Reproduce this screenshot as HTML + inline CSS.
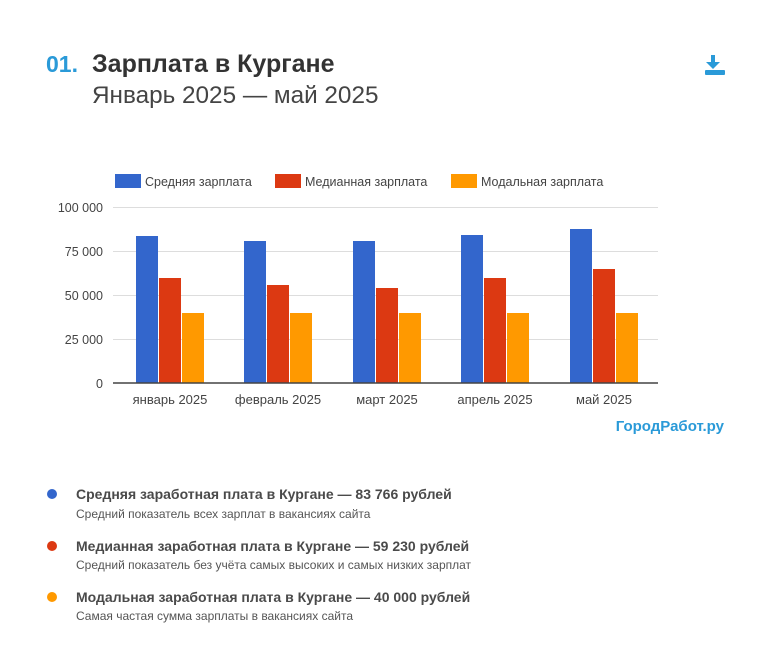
<!DOCTYPE html>
<html><head><meta charset="utf-8"><style>
body{margin:0;background:#fff;width:760px;height:643px;overflow:hidden;font-family:"Liberation Sans",sans-serif}
</style></head><body>
<svg width="760" height="643" viewBox="0 0 760 643" xmlns="http://www.w3.org/2000/svg" font-family="Liberation Sans, sans-serif">
<text x="46" y="72" font-size="23" font-weight="bold" fill="#2a9ad8">01.</text>
<text x="92" y="72" font-size="25" font-weight="bold" fill="#333">Зарплата в Кургане</text>
<text x="92" y="103" font-size="24.3" fill="#444">Январь 2025 — май 2025</text>
<g fill="#2a9ad8">
<rect x="711" y="55" width="4" height="8"/><path d="M706 62h14l-7 7z"/><rect x="705" y="70" width="20" height="5" rx="1"/>
</g>
<g font-size="12.5" fill="#444">
<rect x="115" y="174" width="26" height="14" fill="#3366cc"/><text x="145" y="186">Средняя зарплата</text>
<rect x="275" y="174" width="26" height="14" fill="#dc3912"/><text x="305" y="186">Медианная зарплата</text>
<rect x="451" y="174" width="26" height="14" fill="#ff9900"/><text x="481" y="186">Модальная зарплата</text>
</g>
<g stroke="#ddd" stroke-width="1">
<line x1="113" x2="658" y1="207.5" y2="207.5"/><line x1="113" x2="658" y1="251.5" y2="251.5"/>
<line x1="113" x2="658" y1="295.5" y2="295.5"/><line x1="113" x2="658" y1="339.5" y2="339.5"/>
</g>
<g font-size="12.5" fill="#444" text-anchor="end">
<text x="103" y="212">100 000</text><text x="103" y="256">75 000</text><text x="103" y="300">50 000</text>
<text x="103" y="344">25 000</text><text x="103" y="388">0</text>
</g>
<g>
<rect x="136" y="236" width="22" height="147" fill="#3366cc"/><rect x="159" y="278" width="22" height="105" fill="#dc3912"/><rect x="182" y="313" width="22" height="70" fill="#ff9900"/>
<rect x="244" y="241" width="22" height="142" fill="#3366cc"/><rect x="267" y="285" width="22" height="98" fill="#dc3912"/><rect x="290" y="313" width="22" height="70" fill="#ff9900"/>
<rect x="353" y="241" width="22" height="142" fill="#3366cc"/><rect x="376" y="288" width="22" height="95" fill="#dc3912"/><rect x="399" y="313" width="22" height="70" fill="#ff9900"/>
<rect x="461" y="235" width="22" height="148" fill="#3366cc"/><rect x="484" y="278" width="22" height="105" fill="#dc3912"/><rect x="507" y="313" width="22" height="70" fill="#ff9900"/>
<rect x="570" y="229" width="22" height="154" fill="#3366cc"/><rect x="593" y="269" width="22" height="114" fill="#dc3912"/><rect x="616" y="313" width="22" height="70" fill="#ff9900"/>
</g>
<line x1="113" x2="658" y1="383" y2="383" stroke="#444" stroke-width="1.5"/>
<g font-size="13" fill="#444" text-anchor="middle">
<text x="170" y="404">январь 2025</text><text x="278" y="404">февраль 2025</text><text x="387" y="404">март 2025</text>
<text x="495" y="404">апрель 2025</text><text x="604" y="404">май 2025</text>
</g>
<text x="724" y="431" font-size="15" font-weight="bold" fill="#2a9ad8" text-anchor="end">ГородРабот.ру</text>
<circle cx="52" cy="494" r="5" fill="#3366cc"/>
<circle cx="52" cy="546" r="5" fill="#dc3912"/>
<circle cx="52" cy="597" r="5" fill="#ff9900"/>
<g fill="#444">
<text x="76" y="499" font-size="14" font-weight="bold" fill="#4a4a4a">Средняя заработная плата в Кургане — 83 766 рублей</text>
<text x="76" y="518" font-size="12" fill="#555">Средний показатель всех зарплат в вакансиях сайта</text>
<text x="76" y="551" font-size="14" font-weight="bold" fill="#4a4a4a">Медианная заработная плата в Кургане — 59 230 рублей</text>
<text x="76" y="569" font-size="12" fill="#555">Средний показатель без учёта самых высоких и самых низких зарплат</text>
<text x="76" y="602" font-size="14" font-weight="bold" fill="#4a4a4a">Модальная заработная плата в Кургане — 40 000 рублей</text>
<text x="76" y="620" font-size="12" fill="#555">Самая частая сумма зарплаты в вакансиях сайта</text>
</g>
</svg>
</body></html>
